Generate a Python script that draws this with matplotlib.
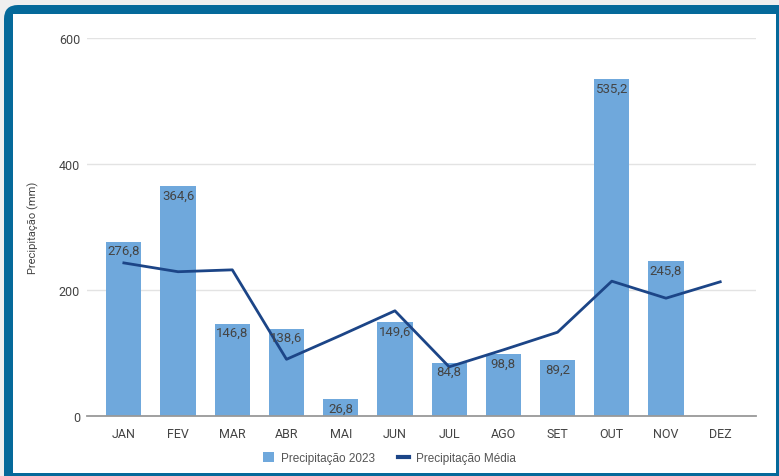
import matplotlib.pyplot as plt
from matplotlib.patches import FancyBboxPatch, Rectangle
from matplotlib.lines import Line2D

meses = ["JAN", "FEV", "MAR", "ABR", "MAI", "JUN", "JUL", "AGO", "SET", "OUT", "NOV", "DEZ"]
precip_2023 = [276.8, 364.6, 146.8, 138.6, 26.8, 149.6, 84.8, 98.8, 89.2, 535.2, 245.8, None]
precip_media = [243, 229, 232, 90, 128, 167, 78, 105, 133, 214, 187, 213]
y_ticks = [0, 200, 400, 600]

cor_barra = "#6fa8dc"
cor_linha = "#1c4587"
cor_borda = "#05699a"
cor_texto = "#444444"

plt.rcParams["font.family"] = ["Roboto", "DejaVu Sans"]

fig = plt.figure(figsize=(7.79, 4.77), dpi=100)
fig.patch.set_facecolor("#efefef")

# moldura azul com canto arredondado
W, H = 779, 477
moldura = FancyBboxPatch((4 / W, -20 / H), 800 / W, (471 + 20) / H,
                         boxstyle="round,pad=0,rounding_size=0.018",
                         transform=fig.transFigure, facecolor=cor_borda,
                         edgecolor="none", zorder=-2, mutation_aspect=W / H)
fig.patches.append(moldura)
fundo = Rectangle((13 / W, 3 / H), (776 - 13) / W, (462 - 3) / H,
                  transform=fig.transFigure, facecolor="white",
                  edgecolor="none", zorder=-1)
fig.patches.append(fundo)

ax = fig.add_axes([87 / W, 60 / H, (756 - 87) / W, (417 - 39) / H])
ax.set_facecolor("none")

x = list(range(len(meses)))
alturas = [v if v is not None else 0 for v in precip_2023]
ax.bar(x, alturas, width=0.65, color=cor_barra, zorder=2)
ax.plot(x, precip_media, color=cor_linha, linewidth=2, zorder=3)

for i, v in enumerate(precip_2023):
    if v is None:
        continue
    ax.text(i, v - 4, f"{v:.1f}".replace(".", ","), ha="center", va="top",
            fontsize=9.5, color=cor_texto, zorder=4)

ax.set_xlim(-0.68, 11.66)
ax.set_ylim(0, 600)
ax.set_yticks(y_ticks)
ax.set_xticks(x)
ax.set_xticklabels(meses)
ax.grid(axis="y", color="#e3e3e3", linewidth=1, zorder=0)
ax.set_axisbelow(True)
for s in ["top", "right", "left"]:
    ax.spines[s].set_visible(False)
ax.spines["bottom"].set_color("#999999")
ax.spines["bottom"].set_linewidth(1.3)
ax.spines["bottom"].set_zorder(5)
ax.tick_params(axis="both", length=0, labelsize=9, labelcolor=cor_texto, pad=8)
ax.tick_params(axis="y", pad=5)
ax.set_ylabel("Precipitação (mm)", fontsize=8, color=cor_texto, labelpad=14)

handles = [Rectangle((0, 0), 1, 1, facecolor=cor_barra, edgecolor="none"),
           Line2D([0], [0], color=cor_linha, linewidth=3)]
fig.legend(handles, ["Precipitação 2023", "Precipitação Média"], loc="center",
           bbox_to_anchor=(0.5, 18 / H), ncol=2, frameon=False,
           prop={"family": ["Liberation Sans", "DejaVu Sans"], "size": 8.5},
           labelcolor="#555555", handlelength=0.9, handleheight=0.9,
           handletextpad=0.6, columnspacing=2.0)

fig.savefig("out.png", dpi=100, facecolor=fig.get_facecolor())
